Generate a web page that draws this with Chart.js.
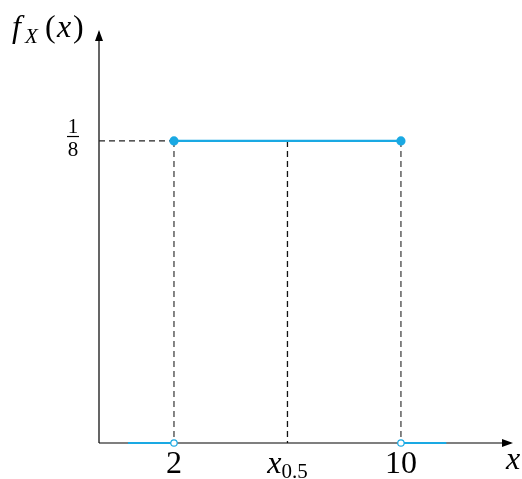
<!DOCTYPE html>
<html>
<head>
<meta charset="utf-8">
<script src="https://cdn.jsdelivr.net/npm/chart.js@4"></script>
<style>
  html, body { margin: 0; padding: 0; background: #fff; }
  #wrap { width: 522px; height: 479px; }
</style>
</head>
<body>
<div id="wrap"><canvas id="pdfChart"></canvas></div>
<script>
// uniform density on [a, b]
const support = [2, 10];
const density = [1 / 8];
const median = [6];
const leftTail = [0.38, 2];
const rightTail = [10, 11.6];
const tickValues = [2, 6, 10];
const tickLabels = ['2', 'x0.5', '10'];

const blue = '#1aa9e3';
const dash = '#444';
const xMin = -0.643, xMax = 13.95;
const yMax = 0.1709;

// axes, arrows and all the text
const decor = {
    id: 'decor',
    beforeDatasetsDraw(chart) {
        const { ctx, chartArea, scales } = chart;
        const x0 = scales.x.getPixelForValue(xMin);
        const y0 = scales.y.getPixelForValue(0);
        ctx.save();
        ctx.strokeStyle = '#000';
        ctx.fillStyle = '#000';
        ctx.lineWidth = 1.2;
        ctx.beginPath();
        ctx.moveTo(x0, y0);
        ctx.lineTo(chartArea.right - 2, y0);
        ctx.moveTo(x0, y0);
        ctx.lineTo(x0, chartArea.top + 2);
        ctx.stroke();
        // arrow heads
        ctx.beginPath();
        ctx.moveTo(chartArea.right, y0);
        ctx.lineTo(chartArea.right - 11, y0 - 4);
        ctx.lineTo(chartArea.right - 11, y0 + 4);
        ctx.closePath();
        ctx.fill();
        ctx.beginPath();
        ctx.moveTo(x0, chartArea.top);
        ctx.lineTo(x0 - 4, chartArea.top + 11);
        ctx.lineTo(x0 + 4, chartArea.top + 11);
        ctx.closePath();
        ctx.fill();
        ctx.restore();
    },
    afterDraw(chart) {
        const { ctx, chartArea, scales } = chart;
        const y0 = scales.y.getPixelForValue(0);
        const serif = '"Liberation Serif", "DejaVu Serif", serif';
        ctx.save();
        ctx.fillStyle = '#000';
        ctx.textBaseline = 'alphabetic';
        // x tick labels
        tickValues.forEach((v, i) => {
            const px = scales.x.getPixelForValue(v);
            const lab = tickLabels[i];
            if (lab === 'x0.5') {
                ctx.font = 'italic 32px ' + serif;
                const w1 = ctx.measureText('x').width;
                ctx.font = '21px ' + serif;
                const w2 = ctx.measureText('0.5').width;
                const start = px - (w1 + w2) / 2;
                ctx.textAlign = 'left';
                ctx.font = 'italic 32px ' + serif;
                ctx.fillText('x', start, y0 + 30);
                ctx.font = '21px ' + serif;
                ctx.fillText('0.5', start + w1, y0 + 35);
            } else {
                ctx.textAlign = 'center';
                ctx.font = '32px ' + serif;
                ctx.fillText(lab, px, y0 + 30);
            }
        });
        // axis names
        ctx.textAlign = 'center';
        ctx.font = 'italic 32px ' + serif;
        ctx.fillText('x', chartArea.right, y0 + 26);
        ctx.textAlign = 'left';
        ctx.font = 'italic 32px ' + serif;
        ctx.fillText('f', 12, 37);
        ctx.font = 'italic 21px ' + serif;
        ctx.fillText('X', 25, 43);
        ctx.font = '32px ' + serif;
        ctx.fillText('(', 45, 37);
        ctx.font = 'italic 32px ' + serif;
        ctx.fillText('x', 57, 37);
        ctx.font = '32px ' + serif;
        ctx.fillText(')', 73, 37);
        // 1/8 fraction at the density level
        const py = scales.y.getPixelForValue(density[0]);
        ctx.textAlign = 'center';
        ctx.font = '21px ' + serif;
        ctx.fillText('1', 73, py - 8);
        ctx.fillText('8', 73, py + 15);
        ctx.fillRect(67, py - 5, 12, 1.2);
        ctx.restore();
    }
};

const line = (pts, opts) => Object.assign({
    data: pts,
    showLine: true,
    borderWidth: 1.3,
    pointRadius: 0,
    borderColor: dash,
    borderDash: [6, 4]
}, opts);

// first datasets are drawn on top, so the blue marks come first
const ctx = document.getElementById('pdfChart').getContext('2d');
const pdfChart = new Chart(ctx, {
    type: 'scatter',
    data: {
        datasets: [
            {
                data: [{ x: support[0], y: density[0] }, { x: support[1], y: density[0] }],
                showLine: true,
                clip: false,
                borderColor: blue,
                borderWidth: 2.2,
                pointRadius: 3.5,
                pointBackgroundColor: blue,
                pointBorderColor: blue
            },
            {
                data: [{ x: leftTail[0], y: 0 }, { x: leftTail[1], y: 0 }],
                showLine: true,
                clip: false,
                borderColor: blue,
                borderWidth: 2.2,
                pointRadius: [0, 3.2],
                pointBackgroundColor: '#fff',
                pointBorderColor: blue,
                pointBorderWidth: 1.2
            },
            {
                data: [{ x: rightTail[0], y: 0 }, { x: rightTail[1], y: 0 }],
                showLine: true,
                clip: false,
                borderColor: blue,
                borderWidth: 2.2,
                pointRadius: [3.2, 0],
                pointBackgroundColor: '#fff',
                pointBorderColor: blue,
                pointBorderWidth: 1.2
            },
            line([{ x: xMin, y: density[0] }, { x: support[0], y: density[0] }], { borderColor: '#222' }),
            line([{ x: support[0], y: density[0] }, { x: support[0], y: 0 }]),
            line([{ x: median[0], y: density[0] }, { x: median[0], y: 0 }], { borderColor: '#111' }),
            line([{ x: support[1], y: density[0] }, { x: support[1], y: 0 }])
        ]
    },
    options: {
        responsive: true,
        maintainAspectRatio: false,
        animation: false,
        layout: { padding: { left: 99, right: 9, top: 30, bottom: 36 } },
        plugins: { legend: { display: false }, tooltip: { enabled: false } },
        scales: {
            x: { type: 'linear', min: xMin, max: xMax, display: false },
            y: { type: 'linear', min: 0, max: yMax, display: false }
        }
    },
    plugins: [decor]
});
</script>
</body>
</html>
